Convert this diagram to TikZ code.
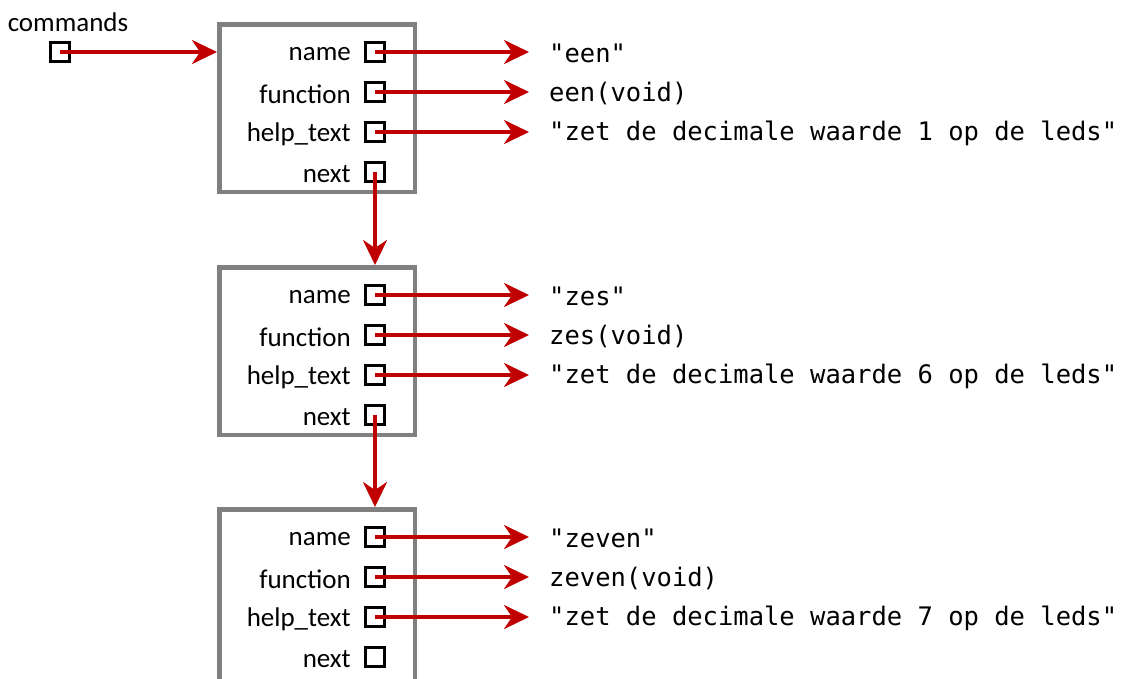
\documentclass[tikz,border=0pt]{standalone}
\usepackage{fontspec}
\setmainfont{Carlito}
\newfontfamily\codefont{DejaVu Sans Mono}
\usetikzlibrary{arrows.meta}
\definecolor{ptrred}{HTML}{C00000}
\definecolor{boxgrey}{HTML}{808080}
\tikzset{
  record/.style={draw=boxgrey, line width=4.5pt, minimum width=195.5pt, minimum height=167.5pt, inner sep=0pt, fill=white},
  slot/.style={draw=black, line width=3pt, minimum size=19.5pt, inner sep=0pt},
  field/.style={anchor=east, inner sep=0pt, font=\fontsize{27}{30}\selectfont},
  value/.style={anchor=west, inner sep=0pt, font=\codefont\fontsize{25.5}{28}\selectfont},
  ptr/.style={draw=ptrred, line width=3.5pt, -{Stealth[length=25pt, width=24pt, inset=8pt]}}
}
\begin{document}
\begin{tikzpicture}[x=1pt, y=-1pt]
\useasboundingbox (0,0) rectangle (1129,678);
% commands pointer
\node[field, anchor=center] (cmdlabel) at (68,22) {commands};
\node[slot] (cmd) at (60,52) {};
% records
\node[record] (r1) at (317,108) {};
\node[record] (r2) at (317,351) {};
\node[record, minimum height=187.5pt] (r3) at (317,603) {};
\foreach \r/\t/\nm/\fn/\num in {1/22/een/een/1, 2/265/zes/zes/6, 3/507/zeven/zeven/7}{
  \node[field] (l\r a) at (351,\t+32) {name};
  \node[field] (l\r b) at (351,\t+72) {function};
  \node[field] (l\r c) at (351,\t+112) {help\_text};
  \node[field] (l\r d) at (351,\t+152) {next};
  \node[slot] (s\r a) at (375,\t+30) {};
  \node[slot] (s\r b) at (375,\t+70) {};
  \node[slot] (s\r c) at (375,\t+110) {};
  \node[slot] (s\r d) at (375,\t+150) {};
  \node[value] (v\r a) at (549,\t+31) {"\nm"};
  \node[value] (v\r b) at (549,\t+71) {\fn(void)};
  \node[value] (v\r c) at (549,\t+111) {"zet de decimale waarde \num\ op de leds"};
  \coordinate (e\r a) at (529,\t+30);
  \coordinate (e\r b) at (529,\t+70);
  \coordinate (e\r c) at (529,\t+110);
  \draw[ptr] (s\r a.center) -- (e\r a);
  \draw[ptr] (s\r b.center) -- (e\r b);
  \draw[ptr] (s\r c.center) -- (e\r c);
}
\draw[ptr] (cmd.center) -- (cmd.center -| r1.west);
\draw[ptr] (s1d.center) -- (s1d.center |- r2.north);
\draw[ptr] (s2d.center) -- (s2d.center |- r3.north);
\end{tikzpicture}
\end{document}
